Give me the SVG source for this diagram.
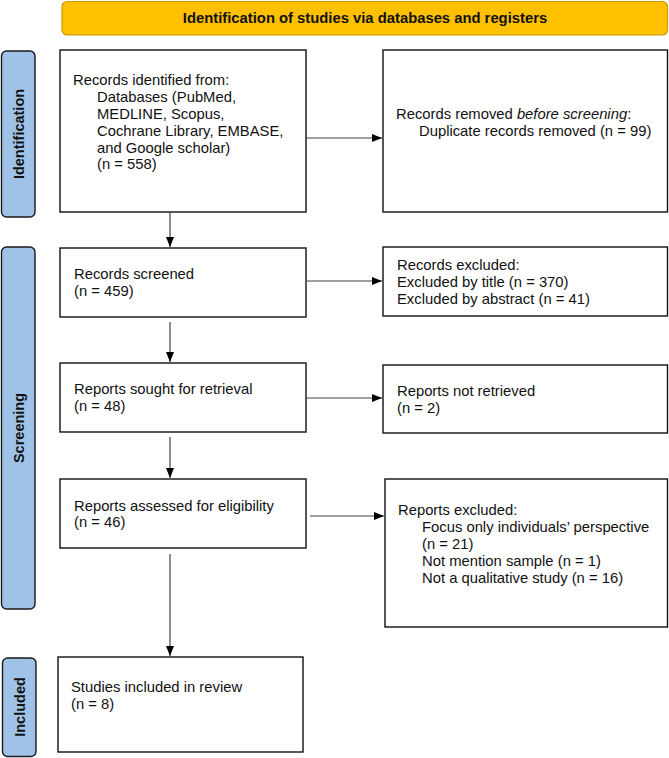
<svg xmlns="http://www.w3.org/2000/svg" width="669" height="758" viewBox="0 0 669 758">
<style>
.box{fill:#fff;stroke:#111;stroke-width:1.4}
.side{fill:#9fc3e7;stroke:#1a1a1a;stroke-width:1.4}
.hdr{fill:#ffc000;stroke:#c99a00;stroke-width:1.2}
.t{font-family:"Liberation Sans",Arial,sans-serif;font-size:14.8px;fill:#111}
.b{font-family:"Liberation Sans",Arial,sans-serif;font-size:14.5px;font-weight:bold;fill:#111}
.c{stroke:#444;stroke-width:1.2;fill:none;marker-end:url(#ah)}
</style>
<defs>
<marker id="ah" markerUnits="userSpaceOnUse" markerWidth="10" markerHeight="10" viewBox="0 0 10 10" refX="10" refY="5" orient="auto">
<path d="M0,1 L10,5 L0,9 Z" fill="#000"/>
</marker>
</defs>
<rect width="669" height="758" fill="#fff"/>
<g id="header">
<rect class="hdr" x="62" y="1.5" width="605.5" height="33.5" rx="5"/>
<text class="b" x="365" y="23" text-anchor="middle" style="font-size:14.8px">Identification of studies via databases and registers</text>
</g>
<g id="label-identification">
<rect class="side" x="1.5" y="51" width="33.5" height="166" rx="5"/>
<text class="b" transform="translate(23.5,134) rotate(-90)" text-anchor="middle">Identification</text>
</g>
<g id="label-screening">
<rect class="side" x="1.5" y="247" width="33.5" height="362" rx="5"/>
<text class="b" transform="translate(23.5,428) rotate(-90)" text-anchor="middle">Screening</text>
</g>
<g id="label-included">
<rect class="side" x="2.5" y="658" width="33.5" height="98.5" rx="5"/>
<text class="b" transform="translate(24.5,707) rotate(-90)" text-anchor="middle">Included</text>
</g>
<g id="records-identified">
<rect class="box" x="60" y="50" width="246" height="162"/>
<text class="t" x="73" y="85">Records identified from:</text>
<text class="t" x="97" y="102">Databases (PubMed,</text>
<text class="t" x="97" y="119">MEDLINE, Scopus,</text>
<text class="t" x="97" y="136">Cochrane Library, EMBASE,</text>
<text class="t" x="97" y="153">and Google scholar)</text>
<text class="t" x="97" y="169">(n = 558)</text>
</g>
<g id="records-removed">
<rect class="box" x="383" y="50" width="284.5" height="162"/>
<text class="t" x="396" y="119">Records removed <tspan font-style="italic">before screening</tspan>:</text>
<text class="t" x="419" y="136">Duplicate records removed (n = 99)</text>
</g>
<g id="records-screened">
<rect class="box" x="60" y="248" width="246" height="69"/>
<text class="t" x="74" y="279">Records screened</text>
<text class="t" x="74" y="296">(n = 459)</text>
</g>
<g id="records-excluded">
<rect class="box" x="383" y="247" width="284.5" height="69"/>
<text class="t" x="397" y="270">Records excluded:</text>
<text class="t" x="397" y="287">Excluded by title (n = 370)</text>
<text class="t" x="397" y="304">Excluded by abstract (n = 41)</text>
</g>
<g id="reports-sought">
<rect class="box" x="60" y="363" width="246" height="69"/>
<text class="t" x="74" y="394">Reports sought for retrieval</text>
<text class="t" x="74" y="411">(n = 48)</text>
</g>
<g id="reports-not-retrieved">
<rect class="box" x="383" y="365" width="284.5" height="68"/>
<text class="t" x="397" y="396">Reports not retrieved</text>
<text class="t" x="397" y="413">(n = 2)</text>
</g>
<g id="reports-assessed">
<rect class="box" x="60" y="479" width="246" height="69"/>
<text class="t" x="74" y="511">Reports assessed for eligibility</text>
<text class="t" x="74" y="527">(n = 46)</text>
</g>
<g id="reports-excluded">
<rect class="box" x="385" y="479" width="282.5" height="148"/>
<text class="t" x="398" y="515">Reports excluded:</text>
<text class="t" x="422" y="532">Focus only individuals’ perspective</text>
<text class="t" x="422" y="549">(n = 21)</text>
<text class="t" x="422" y="566">Not mention sample (n = 1)</text>
<text class="t" x="422" y="583">Not a qualitative study (n = 16)</text>
</g>
<g id="studies-included">
<rect class="box" x="58" y="657" width="245" height="95"/>
<text class="t" x="71" y="692">Studies included in review</text>
<text class="t" x="71" y="709">(n = 8)</text>
</g>
<g id="connectors">
<line class="c" x1="306" y1="138" x2="382" y2="138"/>
<line class="c" x1="170" y1="212" x2="170" y2="247"/>
<line class="c" x1="307" y1="281" x2="382" y2="281"/>
<line class="c" x1="170" y1="322" x2="170" y2="362"/>
<line class="c" x1="307" y1="398" x2="382" y2="398"/>
<line class="c" x1="170" y1="437" x2="170" y2="478"/>
<line class="c" x1="310" y1="516" x2="384" y2="516"/>
<line class="c" x1="170" y1="554" x2="170" y2="656"/>
</g>
</svg>
